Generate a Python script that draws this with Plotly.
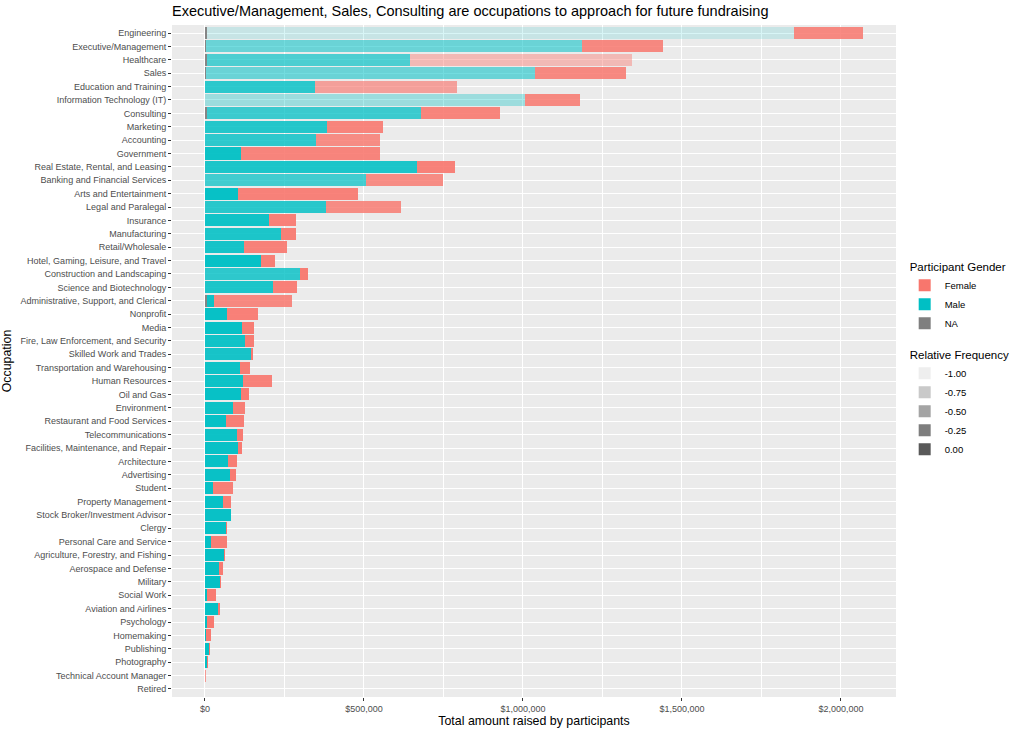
import plotly.graph_objects as go

occupations = [
    "Engineering", "Executive/Management", "Healthcare", "Sales", "Education and Training",
    "Information Technology (IT)", "Consulting", "Marketing", "Accounting", "Government",
    "Real Estate, Rental, and Leasing", "Banking and Financial Services", "Arts and Entertainment",
    "Legal and Paralegal", "Insurance", "Manufacturing", "Retail/Wholesale",
    "Hotel, Gaming, Leisure, and Travel", "Construction and Landscaping", "Science and Biotechnology",
    "Administrative, Support, and Clerical", "Nonprofit", "Media", "Fire, Law Enforcement, and Security",
    "Skilled Work and Trades", "Transportation and Warehousing", "Human Resources", "Oil and Gas",
    "Environment", "Restaurant and Food Services", "Telecommunications",
    "Facilities, Maintenance, and Repair", "Architecture", "Advertising", "Student",
    "Property Management", "Stock Broker/Investment Advisor", "Clergy", "Personal Care and Service",
    "Agriculture, Forestry, and Fishing", "Aerospace and Defense", "Military", "Social Work",
    "Aviation and Airlines", "Psychology", "Homemaking", "Publishing", "Photography",
    "Technical Account Manager", "Retired",
]

# Amount raised (USD) by gender
na_amount = [6000, 2000, 6000, 2000, 0, 0, 5500, 0, 0, 0,
             0, 0, 0, 0, 0, 0, 0, 0, 0, 0,
             7200, 0, 0, 0, 0, 0, 0, 0, 0, 0,
             0, 0, 0, 0, 0, 0, 0, 0, 0, 0,
             0, 0, 0, 0, 0, 0, 0, 0, 0, 0]
male_amount = [1847400, 1182500, 639400, 1036600, 347500, 1007300, 673000, 384000, 350300, 114800,
               668300, 505700, 105000, 381200, 200300, 238100, 123600, 177100, 299700, 212900,
               20100, 68200, 116400, 124900, 144700, 111000, 119500, 112300, 88100, 67000,
               99700, 103800, 73300, 79600, 26100, 56600, 80800, 67000, 17900, 60700,
               44700, 48100, 6300, 41800, 5300, 3100, 12600, 5300, 0, 0]
female_amount = [216400, 255700, 696300, 285200, 445000, 173000, 250300, 176400, 200000, 435600,
                 118900, 243700, 376800, 234300, 87400, 48100, 134300, 42100, 23300, 76400,
                 246200, 99400, 37700, 29200, 5300, 30500, 90300, 26100, 38700, 55700,
                 19800, 11600, 28300, 17000, 62900, 25200, 2000, 2200, 50300, 3100,
                 11000, 3100, 29200, 5300, 22000, 16700, 2200, 3100, 2500, 1500]

# Relative frequency (mapped to transparency), range -1 .. 0
na_relfreq = [-0.05] * 50
male_relfreq = [-0.94, -0.50, -0.36, -0.50, -0.20, -0.74, -0.28, -0.17, -0.22, -0.06,
                -0.13, -0.31, -0.03, -0.19, -0.08, -0.13, -0.11, -0.03, -0.22, -0.13,
                -0.06, -0.03, -0.03, -0.08, -0.11, -0.06, -0.06, -0.03, -0.06, -0.03,
                -0.06, -0.04, -0.04, -0.04, -0.03, -0.03, -0.04, -0.03, -0.02, -0.02,
                -0.02, -0.02, -0.01, -0.02, -0.01, -0.01, -0.01, -0.01, 0.0, 0.0]
female_relfreq = [-0.17, -0.17, -0.63, -0.17, -0.39, -0.17, -0.13, -0.13, -0.20, -0.13,
                  -0.11, -0.20, -0.11, -0.20, -0.09, -0.08, -0.11, -0.08, -0.06, -0.09,
                  -0.17, -0.09, -0.06, -0.06, -0.03, -0.06, -0.11, -0.04, -0.08, -0.07,
                  -0.04, -0.03, -0.06, -0.04, -0.08, -0.06, -0.01, -0.01, -0.06, -0.01,
                  -0.03, -0.01, -0.04, -0.02, -0.03, -0.03, -0.01, -0.01, -0.33, -0.78]

legend_breaks = [-1.00, -0.75, -0.50, -0.25, 0.00]

FEMALE = (248, 118, 109)
MALE = (0, 191, 196)
NA_COL = (127, 127, 127)
KEY_GREY = (89, 89, 89)


def alpha(v):
    return 0.1 + 0.9 * (v + 1.0)


def rgba(c, a):
    return f"rgba({c[0]},{c[1]},{c[2]},{a:.3f})"


totals = [a + b + c for a, b, c in zip(na_amount, male_amount, female_amount)]
span = max(totals)
xrange = [-0.05 * span, span * 1.05]

fig = go.Figure()
for name, vals, rf, col in [("NA", na_amount, na_relfreq, NA_COL),
                            ("Male", male_amount, male_relfreq, MALE),
                            ("Female", female_amount, female_relfreq, FEMALE)]:
    fig.add_trace(go.Bar(
        y=occupations, x=vals, orientation="h", width=0.9,
        marker=dict(color=[rgba(col, alpha(v)) for v in rf], line=dict(width=0)),
        showlegend=False, name=name,
    ))

# legend entries
for name, col in [("Female", FEMALE), ("Male", MALE), ("NA", NA_COL)]:
    fig.add_trace(go.Bar(
        y=[None], x=[None], orientation="h", name=name,
        marker=dict(color=rgba(col, 1.0), line=dict(width=0)),
        legendgroup="gender",
        legendgrouptitle=dict(text="Participant Gender", font=dict(size=11.5, color="black")),
    ))
for b in legend_breaks:
    fig.add_trace(go.Bar(
        y=[None], x=[None], orientation="h", name=f"{b:.2f}",
        marker=dict(color=rgba(KEY_GREY, alpha(b)), line=dict(width=0)),
        legendgroup="relfreq",
        legendgrouptitle=dict(text="Relative Frequency", font=dict(size=11.5, color="black")),
    ))

fig.update_layout(
    barmode="stack",
    width=1023, height=731,
    margin=dict(l=172, r=127, t=25, b=34, autoexpand=False),
    paper_bgcolor="white",
    plot_bgcolor="#EBEBEB",
    font=dict(family="Arial, Liberation Sans, sans-serif", size=9, color="#4D4D4D"),
    title=dict(text="Executive/Management, Sales, Consulting are occupations to approach for future fundraising",
               x=172 / 1023, xanchor="left", xref="container", y=1 - 11 / 731, yanchor="middle",
               font=dict(size=14.5, color="black")),
    legend=dict(x=1.012, xanchor="left", y=0.505, yanchor="middle", traceorder="grouped",
                tracegroupgap=12, font=dict(size=9.5, color="black"), bgcolor="white",
                itemwidth=30),
    bargap=0.1,
)
fig.update_xaxes(
    range=xrange, tickmode="linear", tick0=0, dtick=500000, tickprefix="$", tickformat=",.0f",
    showgrid=True, gridcolor="white", gridwidth=1.1, zeroline=False, automargin=False,
    minor=dict(dtick=250000, tick0=0, showgrid=True, gridcolor="white", gridwidth=0.5),
    ticks="outside", ticklen=3, tickcolor="#333333", tickfont=dict(size=9, color="#4D4D4D"),
    title=dict(text="Total amount raised by participants", font=dict(size=12.4, color="black"), standoff=2),
)
fig.update_yaxes(
    categoryorder="array", categoryarray=list(reversed(occupations)),
    range=[-0.6, len(occupations) - 0.4],
    showgrid=True, gridcolor="white", gridwidth=1.1, zeroline=False, automargin=False,
    ticks="outside", ticklen=3, tickcolor="#333333", tickfont=dict(size=9, color="#4D4D4D"),
    title=dict(text="Occupation", font=dict(size=12.4, color="black"), standoff=6),
)

fig.write_html("out.html", config={"displayModeBar": False},
               post_script="document.body.style.margin='0px';")
